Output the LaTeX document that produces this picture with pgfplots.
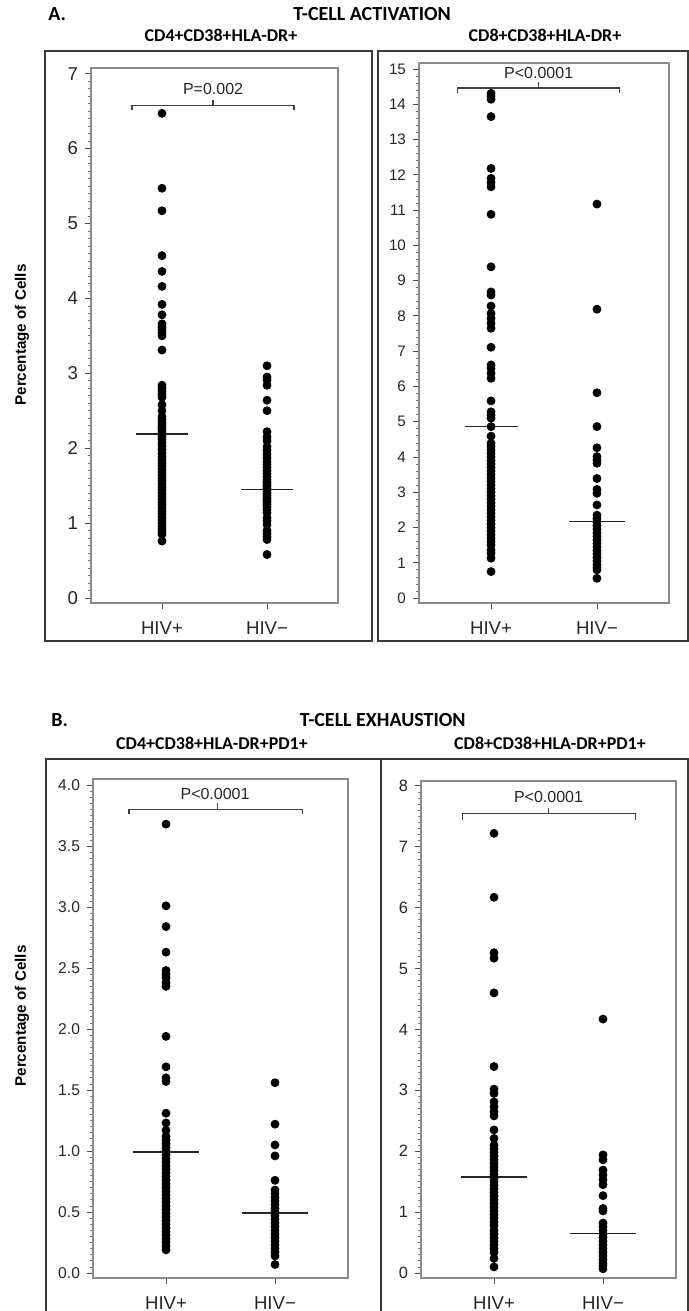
\documentclass[border=0pt]{standalone}
\usepackage{fontspec}
\setmainfont{Liberation Sans}
\newfontfamily\calfont{Carlito}
\usepackage{pgfplots}
\pgfplotsset{compat=1.18}
\definecolor{frameg}{HTML}{8A8A8A}
\definecolor{outerg}{HTML}{3A3A3A}
\tikzset{brk/.style={draw=black!75, line width=0.6pt}}
\pgfplotsset{
  dotplot/.style={
    scale only axis, anchor=south west,
    axis line style={draw=frameg, line width=0.6pt},
    xtick={1,2}, xticklabels={HIV+,HIV−},
    tick align=outside, xtick pos=bottom, ytick pos=left,
    major tick length=3pt, minor tick length=1.5pt,
    tick style={draw=black!70, line width=0.45pt},
    minor tick style={draw=black!55, line width=0.35pt},
    xticklabel style={font=\fontsize{9.3}{9}\selectfont, text=black!85, yshift=-3pt},
    yticklabel style={text=black!85},
    clip=false,
  },
  dots/.style={only marks, mark=*, mark size=2pt, black},
  med/.style={black!85, line width=0.8pt, no marks},
}
\begin{document}
\begin{tikzpicture}
\useasboundingbox (0,0) rectangle (344.5pt,655.5pt);
% outer frames
\draw[outerg, line width=1.1pt] (22.5pt,335pt) rectangle (186pt,630pt);
\draw[outerg, line width=1.1pt] (189pt,335pt) rectangle (344pt,630pt);
\draw[outerg, line width=1.1pt] (23pt,-2pt) -- (23pt,276pt) -- (344pt,276pt) -- (344pt,-2pt);
\draw[outerg, line width=1.1pt] (190.5pt,-2pt) -- (190.5pt,276pt);
% titles
\node[anchor=base west, inner sep=0, font=\calfont\bfseries\fontsize{10}{12}\selectfont] at (24pt,645pt) {A.};
\node[anchor=base west, inner sep=0, font=\calfont\bfseries\fontsize{10}{12}\selectfont] at (146.5pt,645pt) {T-CELL ACTIVATION};
\node[anchor=base, inner sep=0, font=\calfont\bfseries\fontsize{9}{11}\selectfont] at (110.5pt,634.5pt) {CD4+CD38+HLA-DR+};
\node[anchor=base, inner sep=0, font=\calfont\bfseries\fontsize{9}{11}\selectfont] at (272.5pt,634.5pt) {CD8+CD38+HLA-DR+};
\node[anchor=base west, inner sep=0, font=\calfont\bfseries\fontsize{10}{12}\selectfont] at (25.5pt,292pt) {B.};
\node[anchor=base east, inner sep=0, font=\calfont\bfseries\fontsize{10}{12}\selectfont] at (233pt,292pt) {T-CELL EXHAUSTION};
\node[anchor=base, inner sep=0, font=\calfont\bfseries\fontsize{9}{11}\selectfont] at (106pt,280.5pt) {CD4+CD38+HLA-DR+PD1+};
\node[anchor=base, inner sep=0, font=\calfont\bfseries\fontsize{9}{11}\selectfont] at (275pt,280.5pt) {CD8+CD38+HLA-DR+PD1+};
\node[rotate=90, inner sep=0, font=\bfseries\fontsize{7.6}{8}\selectfont] at (11pt,488pt) {Percentage of Cells};
\node[rotate=90, inner sep=0, font=\bfseries\fontsize{7.6}{8}\selectfont] at (11pt,147.5pt) {Percentage of Cells};

% ---------- top left ----------
\begin{axis}[dotplot, at={(45.5pt,354pt)}, width=123.5pt, height=267.5pt,
  xmin=0.324, xmax=2.676, ymin=-0.067, ymax=7.076,
  ytick={0,1,2,3,4,5,6,7}, yticklabels={0,1,2,3,4,5,6,7}, minor y tick num=9,
  yticklabel style={font=\fontsize{9.3}{9}\selectfont}]
\addplot[dots] coordinates {(1,6.47) (1,5.47) (1,5.17) (1,4.57) (1,4.36) (1,4.16) (1,3.92) (1,3.78) (1,3.66) (1,3.62) (1,3.58) (1,3.54) (1,3.50) (1,3.31) (1,2.84) (1,2.80) (1,2.76) (1,2.72) (1,2.68) (1,2.58) (1,2.50) (1,2.42) (1,2.38) (1,2.34) (1,2.30) (1,2.27) (1,2.24) (1,2.20) (1,2.16) (1,2.12) (1,2.07) (1,2.03) (1,1.98) (1,1.93) (1,1.88) (1,1.84) (1,1.80) (1,1.76) (1,1.72) (1,1.68) (1,1.64) (1,1.60) (1,1.56) (1,1.52) (1,1.48) (1,1.44) (1,1.40) (1,1.36) (1,1.32) (1,1.28) (1,1.24) (1,1.20) (1,1.16) (1,1.12) (1,1.08) (1,1.04) (1,1.00) (1,0.96) (1,0.92) (1,0.88) (1,0.85) (1,0.76)};
\addplot[dots] coordinates {(2,3.10) (2,2.95) (2,2.91) (2,2.84) (2,2.64) (2,2.50) (2,2.22) (2,2.15) (2,2.10) (2,2.02) (2,1.97) (2,1.92) (2,1.87) (2,1.82) (2,1.78) (2,1.74) (2,1.70) (2,1.66) (2,1.62) (2,1.58) (2,1.55) (2,1.52) (2,1.49) (2,1.46) (2,1.43) (2,1.40) (2,1.37) (2,1.34) (2,1.31) (2,1.28) (2,1.25) (2,1.22) (2,1.18) (2,1.14) (2,1.07) (2,1.03) (2,0.98) (2,0.90) (2,0.86) (2,0.82) (2,0.78) (2,0.58)};
\addplot[med] coordinates {(0.75,2.19) (1.25,2.19)};
\addplot[med] coordinates {(1.75,1.45) (2.25,1.45)};
\draw[brk] (axis cs:0.714,6.52) -- (axis cs:0.714,6.58) -- (axis cs:2.257,6.58) -- (axis cs:2.257,6.52);
\draw[brk] (axis cs:1.486,6.58) -- (axis cs:1.486,6.65);
\node[font=\fontsize{8}{9}\selectfont, text=black!85] at (axis cs:1.486,6.80) {P=0.002};
\end{axis}

% ---------- top right ----------
\begin{axis}[dotplot, at={(209.5pt,354pt)}, width=125pt, height=270pt,
  xmin=0.32, xmax=2.68, ymin=-0.14, ymax=15.17,
  ytick={0,1,2,3,4,5,6,7,8,9,10,11,12,13,14,15}, yticklabels={0,1,2,3,4,5,6,7,8,9,10,11,12,13,14,15}, minor y tick num=4,
  yticklabel style={font=\fontsize{7.6}{8}\selectfont}]
\addplot[dots] coordinates {(1,14.31) (1,14.23) (1,14.14) (1,13.65) (1,12.18) (1,11.90) (1,11.78) (1,11.66) (1,10.88) (1,9.39) (1,8.68) (1,8.59) (1,8.28) (1,8.07) (1,7.93) (1,7.79) (1,7.65) (1,7.11) (1,6.61) (1,6.51) (1,6.37) (1,6.23) (1,5.59) (1,5.28) (1,5.19) (1,5.10) (1,4.86) (1,4.59) (1,4.39) (1,4.30) (1,4.20) (1,4.10) (1,4.00) (1,3.90) (1,3.80) (1,3.70) (1,3.60) (1,3.50) (1,3.40) (1,3.30) (1,3.20) (1,3.10) (1,3.00) (1,2.90) (1,2.80) (1,2.70) (1,2.60) (1,2.50) (1,2.40) (1,2.30) (1,2.20) (1,2.10) (1,2.00) (1,1.90) (1,1.80) (1,1.70) (1,1.60) (1,1.50) (1,1.36) (1,1.27) (1,1.13) (1,0.75)};
\addplot[dots] coordinates {(2,11.17) (2,8.19) (2,5.82) (2,4.86) (2,4.26) (2,4.01) (2,3.91) (2,3.82) (2,3.39) (2,3.08) (2,2.97) (2,2.64) (2,2.35) (2,2.25) (2,2.15) (2,2.05) (2,1.95) (2,1.85) (2,1.75) (2,1.65) (2,1.55) (2,1.45) (2,1.35) (2,1.25) (2,1.15) (2,1.05) (2,0.95) (2,0.87) (2,0.80) (2,0.56)};
\addplot[med] coordinates {(0.75,4.86) (1.25,4.86)};
\addplot[med] coordinates {(1.74,2.17) (2.26,2.17)};
\draw[brk] (axis cs:0.68,14.32) -- (axis cs:0.68,14.46) -- (axis cs:2.21,14.46) -- (axis cs:2.21,14.32);
\draw[brk] (axis cs:1.445,14.46) -- (axis cs:1.445,14.63);
\node[font=\fontsize{8}{9}\selectfont, text=black!85] at (axis cs:1.45,14.89) {P<0.0001};
\end{axis}

% ---------- bottom left ----------
\begin{axis}[dotplot, at={(46.5pt,16.5pt)}, width=127.5pt, height=249.5pt,
  xmin=0.33, xmax=2.67, ymin=-0.041, ymax=4.05,
  ytick={0,0.5,1,1.5,2,2.5,3,3.5,4}, yticklabels={0.0,0.5,1.0,1.5,2.0,2.5,3.0,3.5,4.0}, minor y tick num=9,
  yticklabel style={font=\fontsize{7.8}{8}\selectfont}]
\addplot[dots] coordinates {(1,3.68) (1,3.01) (1,2.84) (1,2.63) (1,2.48) (1,2.45) (1,2.42) (1,2.38) (1,2.35) (1,1.94) (1,1.69) (1,1.60) (1,1.57) (1,1.31) (1,1.23) (1,1.17) (1,1.12) (1,1.09) (1,1.06) (1,1.03) (1,1.00) (1,0.97) (1,0.94) (1,0.91) (1,0.88) (1,0.85) (1,0.82) (1,0.79) (1,0.76) (1,0.73) (1,0.70) (1,0.67) (1,0.64) (1,0.61) (1,0.58) (1,0.55) (1,0.52) (1,0.49) (1,0.46) (1,0.43) (1,0.40) (1,0.37) (1,0.34) (1,0.31) (1,0.28) (1,0.25) (1,0.22) (1,0.19)};
\addplot[dots] coordinates {(2,1.56) (2,1.22) (2,1.05) (2,0.96) (2,0.76) (2,0.68) (2,0.65) (2,0.62) (2,0.59) (2,0.56) (2,0.53) (2,0.50) (2,0.47) (2,0.44) (2,0.41) (2,0.38) (2,0.35) (2,0.32) (2,0.29) (2,0.26) (2,0.23) (2,0.20) (2,0.17) (2,0.14) (2,0.07)};
\addplot[med] coordinates {(0.70,0.99) (1.30,0.99)};
\addplot[med] coordinates {(1.70,0.49) (2.30,0.49)};
\draw[brk] (axis cs:0.66,3.76) -- (axis cs:0.66,3.80) -- (axis cs:2.25,3.80) -- (axis cs:2.25,3.76);
\draw[brk] (axis cs:1.47,3.80) -- (axis cs:1.47,3.85);
\node[font=\fontsize{8}{9}\selectfont, text=black!85] at (axis cs:1.45,3.93) {P<0.0001};
\end{axis}

% ---------- bottom right ----------
\begin{axis}[dotplot, at={(210.5pt,16.5pt)}, width=127.5pt, height=248.5pt,
  xmin=0.33, xmax=2.67, ymin=-0.082, ymax=8.08,
  ytick={0,1,2,3,4,5,6,7,8}, yticklabels={0,1,2,3,4,5,6,7,8}, minor y tick num=9,
  yticklabel style={font=\fontsize{8.2}{8}\selectfont}]
\addplot[dots] coordinates {(1,7.22) (1,6.17) (1,5.26) (1,5.17) (1,4.60) (1,3.39) (1,3.02) (1,2.95) (1,2.81) (1,2.73) (1,2.65) (1,2.58) (1,2.35) (1,2.21) (1,2.10) (1,2.04) (1,1.98) (1,1.92) (1,1.86) (1,1.80) (1,1.74) (1,1.68) (1,1.62) (1,1.56) (1,1.50) (1,1.44) (1,1.38) (1,1.32) (1,1.26) (1,1.20) (1,1.14) (1,1.08) (1,1.02) (1,0.96) (1,0.90) (1,0.84) (1,0.78) (1,0.70) (1,0.64) (1,0.58) (1,0.52) (1,0.46) (1,0.40) (1,0.34) (1,0.24) (1,0.10)};
\addplot[dots] coordinates {(2,4.17) (2,1.94) (2,1.86) (2,1.69) (2,1.61) (2,1.53) (2,1.45) (2,1.27) (2,1.06) (2,1.02) (2,0.82) (2,0.76) (2,0.70) (2,0.64) (2,0.58) (2,0.52) (2,0.46) (2,0.40) (2,0.34) (2,0.28) (2,0.22) (2,0.16) (2,0.12) (2,0.07)};
\addplot[med] coordinates {(0.70,1.58) (1.30,1.58)};
\addplot[med] coordinates {(1.70,0.65) (2.30,0.65)};
\draw[brk] (axis cs:0.71,7.44) -- (axis cs:0.71,7.54) -- (axis cs:2.30,7.54) -- (axis cs:2.30,7.44);
\draw[brk] (axis cs:1.50,7.54) -- (axis cs:1.50,7.64);
\node[font=\fontsize{8}{9}\selectfont, text=black!85] at (axis cs:1.50,7.82) {P<0.0001};
\end{axis}
\end{tikzpicture}
\end{document}
